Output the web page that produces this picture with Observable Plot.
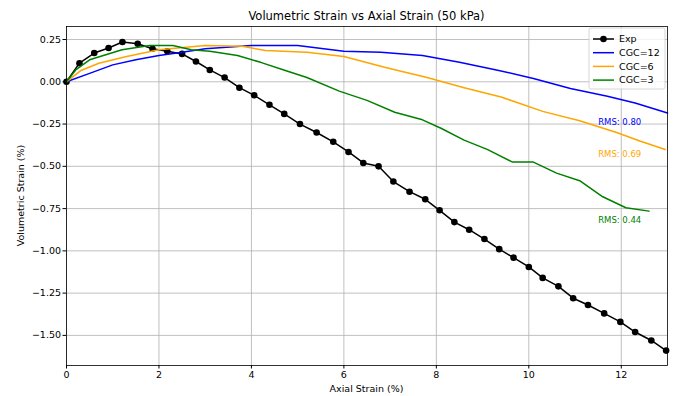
<!DOCTYPE html>
<html><head><meta charset="utf-8">
<script src="https://cdn.jsdelivr.net/npm/d3@7"></script>
<script src="https://cdn.jsdelivr.net/npm/@observablehq/plot@0.6"></script>
<style>
body{margin:0;background:#fff;}
#wrap{width:673px;height:396px;}
</style></head><body><div id="wrap"></div>
<script>
const expX = [0,0.28,0.6,0.91,1.21,1.54,1.86,2.18,2.5,2.8,3.1,3.42,3.74,4.06,4.39,4.71,5.05,5.41,5.77,6.1,6.42,6.75,7.07,7.42,7.76,8.07,8.39,8.71,9.04,9.36,9.67,10.0,10.3,10.64,10.96,11.28,11.63,11.98,12.3,12.65,12.97];
const expY = [0,0.11,0.17,0.2,0.235,0.225,0.195,0.18,0.165,0.12,0.07,0.025,-0.035,-0.08,-0.136,-0.19,-0.25,-0.30,-0.355,-0.415,-0.48,-0.50,-0.59,-0.65,-0.695,-0.76,-0.83,-0.875,-0.93,-0.99,-1.04,-1.095,-1.16,-1.21,-1.28,-1.32,-1.37,-1.42,-1.48,-1.53,-1.59];
const cgc12X = [0,0.5,1,1.5,2,2.5,3,4,5,6,6.8,7.7,8.5,9.3,10.1,10.9,11.7,12.3,13];
const cgc12Y = [0,0.05,0.1,0.13,0.155,0.175,0.195,0.215,0.215,0.18,0.175,0.155,0.115,0.07,0.02,-0.04,-0.085,-0.125,-0.185];
const cgc6X = [0,0.3,0.7,1.3,2,3,3.8,4.3,5.2,6,6.9,7.8,8.6,9.4,10.3,11.1,11.9,12.4,12.95];
const cgc6Y = [0,0.065,0.11,0.15,0.19,0.215,0.21,0.185,0.175,0.15,0.085,0.025,-0.035,-0.09,-0.175,-0.23,-0.3,-0.35,-0.40];
const cgc3X = [0,0.2,0.5,1.2,1.8,2.3,2.7,3.1,3.7,4.2,4.7,5.2,5.9,6.5,7.1,7.7,8.1,8.6,9.1,9.65,10.1,10.6,11.1,11.6,12.1,12.6];
const cgc3Y = [0,0.07,0.13,0.19,0.215,0.215,0.19,0.18,0.155,0.115,0.07,0.025,-0.055,-0.11,-0.18,-0.225,-0.275,-0.345,-0.40,-0.475,-0.475,-0.54,-0.585,-0.68,-0.745,-0.765];
const rmsX = [11.5,11.5,11.5];
const rmsY = [-0.237,-0.43,-0.82];
const rmsLabels = ["RMS: 0.80","RMS: 0.69","RMS: 0.44"];
const rmsColors = ["blue","orange","green"];
const seriesNames = ["Exp","CGC=12","CGC=6","CGC=3"];
const seriesColors = ["black","blue","orange","green"];
const xTicks = [0,2,4,6,8,10,12];
const yTicks = [0.25,0,-0.25,-0.5,-0.75,-1,-1.25,-1.5];

const toPts = (xs, ys) => xs.map((x, i) => ({x, y: ys[i]}));
const exp = toPts(expX, expY);
const c12 = toPts(cgc12X, cgc12Y);
const c6 = toPts(cgc6X, cgc6Y);
const c3 = toPts(cgc3X, cgc3Y);
const rms = rmsX.map((x, i) => ({x, y: rmsY[i], t: rmsLabels[i], c: rmsColors[i]}));

const W = 673, H = 396, mL = 66, mR = 6, mT = 26, mB = 31;
const chart = Plot.plot({
  width: W, height: H,
  marginLeft: mL, marginRight: mR, marginTop: mT, marginBottom: mB,
  style: {fontFamily: "DejaVu Sans, sans-serif", fontSize: "9.5px", color: "#000", background: "#fff"},
  x: {domain: [0, 13]},
  y: {domain: [-1.678, 0.327]},
  marks: [
    Plot.gridX(xTicks, {stroke: "#b0b0b0", strokeOpacity: 1, strokeWidth: 0.8}),
    Plot.gridY(yTicks, {stroke: "#b0b0b0", strokeOpacity: 1, strokeWidth: 0.8}),
    Plot.line(exp, {x: "x", y: "y", stroke: "black", strokeWidth: 1.5}),
    Plot.dot(exp, {x: "x", y: "y", r: 3.3, fill: "black", stroke: "none"}),
    Plot.line(c12, {x: "x", y: "y", stroke: "blue", strokeWidth: 1.5}),
    Plot.line(c6, {x: "x", y: "y", stroke: "orange", strokeWidth: 1.5}),
    Plot.line(c3, {x: "x", y: "y", stroke: "green", strokeWidth: 1.5}),
    Plot.text(rms, {x: "x", y: "y", text: "t", fill: "c", textAnchor: "start", fontSize: 8.5}),
    Plot.frame({stroke: "black", strokeWidth: 0.8}),
    Plot.axisX(xTicks, {tickSize: 3.5, tickPadding: 2, label: null, stroke: "black"}),
    Plot.axisY(yTicks, {tickSize: 3.5, tickPadding: 2, label: null, tickFormat: d3.format(".2f"), stroke: "black"})
  ]
});
document.getElementById("wrap").appendChild(chart);

const svg = d3.select(chart);
const ff = "DejaVu Sans, sans-serif";
svg.append("text").attr("x", (mL + W - mR) / 2).attr("y", 20).attr("text-anchor", "middle")
  .attr("font-family", ff).attr("font-size", 11.5).attr("fill", "#000")
  .text("Volumetric Strain vs Axial Strain (50 kPa)");
svg.append("text").attr("x", (mL + W - mR) / 2).attr("y", 392).attr("text-anchor", "middle")
  .attr("font-family", ff).attr("font-size", 9.5).attr("fill", "#000").text("Axial Strain (%)");
svg.append("text").attr("transform", `translate(24,${(mT + H - mB) / 2}) rotate(-90)`).attr("text-anchor", "middle")
  .attr("font-family", ff).attr("font-size", 9.5).attr("fill", "#000").text("Volumetric Strain (%)");

const lg = svg.append("g").attr("transform", "translate(589,28)");
lg.append("rect").attr("width", 76).attr("height", 61).attr("rx", 2).attr("fill", "#fff").attr("fill-opacity", 0.8).attr("stroke", "#cccccc").attr("stroke-width", 0.8);
seriesNames.forEach((n, i) => {
  const yy = 11 + i * 13.7;
  lg.append("line").attr("x1", 4).attr("x2", 25).attr("y1", yy).attr("y2", yy).attr("stroke", seriesColors[i]).attr("stroke-width", 1.5);
  if (i === 0) lg.append("circle").attr("cx", 14.5).attr("cy", yy).attr("r", 3.3).attr("fill", "black");
  lg.append("text").attr("x", 30).attr("y", yy).attr("dy", "0.35em").attr("text-anchor", "start")
    .attr("font-family", ff).attr("font-size", 9.5).attr("fill", "#000").text(n);
});
</script>
</body></html>
